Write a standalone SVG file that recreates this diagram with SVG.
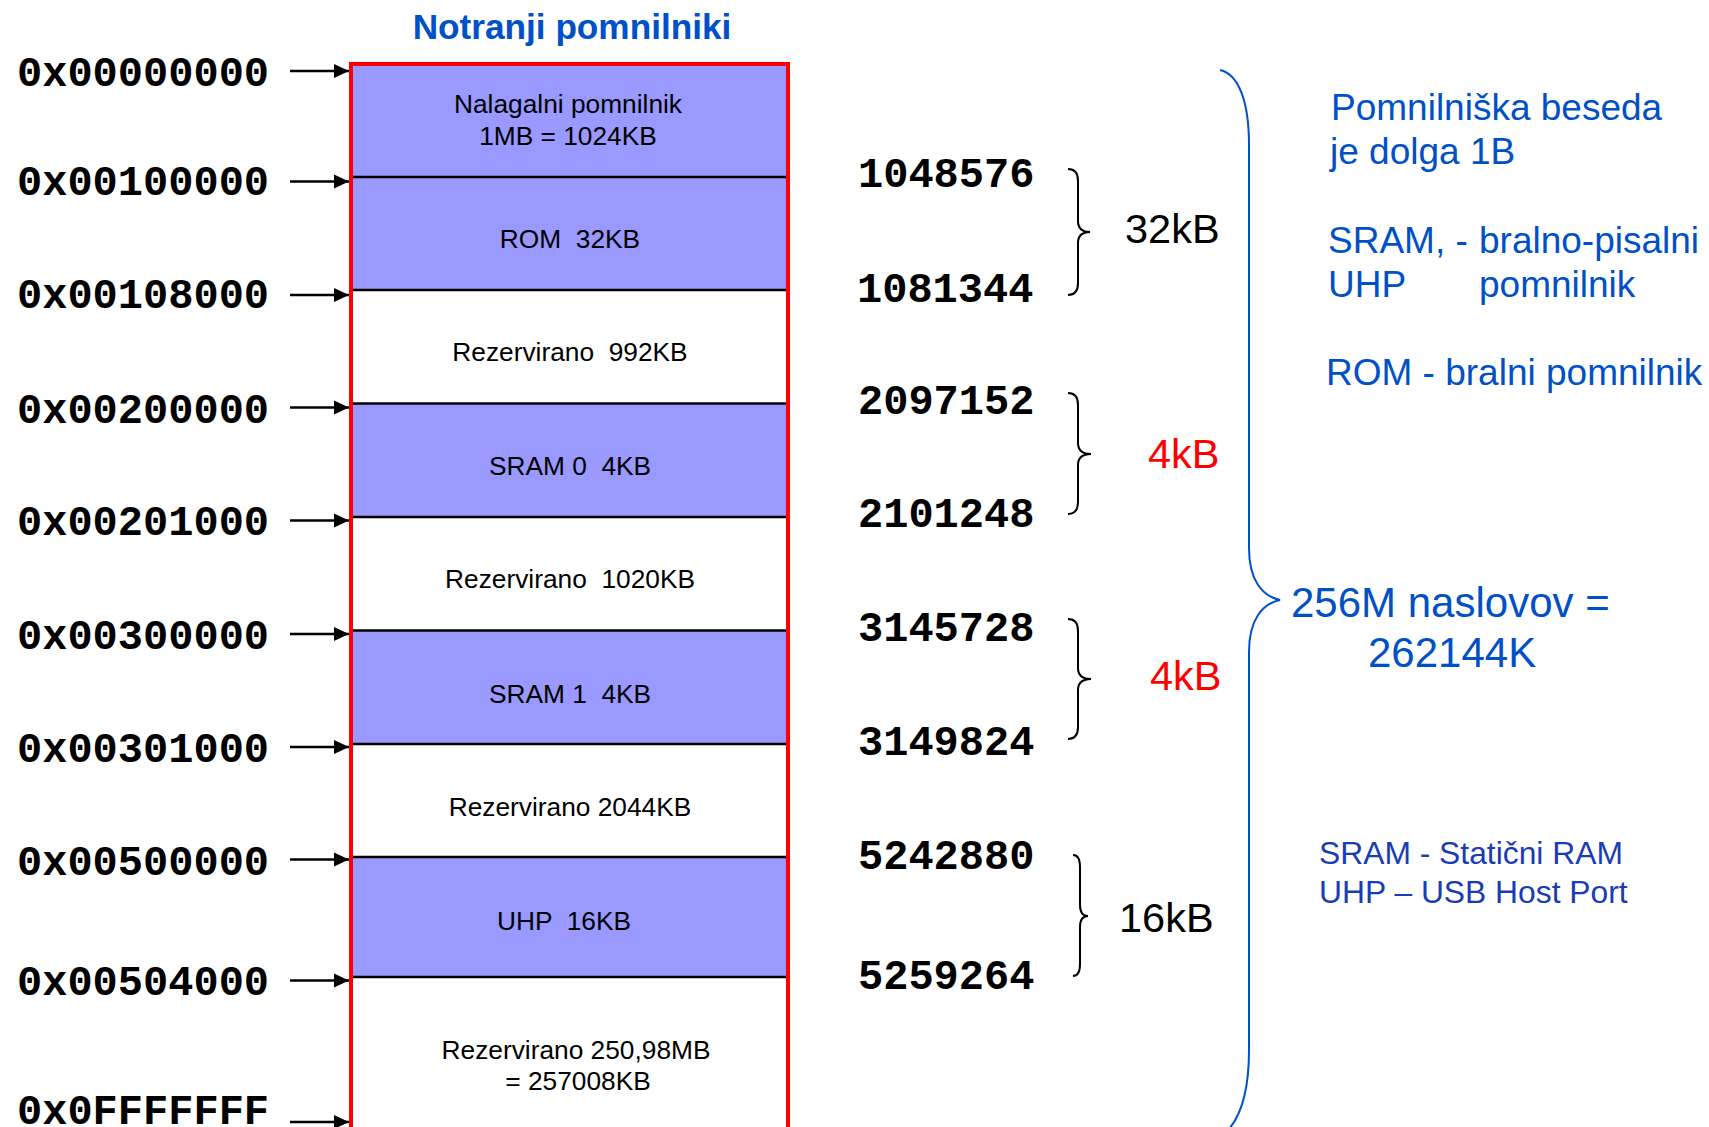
<svg xmlns="http://www.w3.org/2000/svg" width="1709" height="1127" viewBox="0 0 1709 1127">
<style>
.addr{font-family:"Liberation Mono","Courier New",monospace;font-weight:bold;font-size:42px;fill:#000}
.cell{font-family:"Liberation Sans",Arial,sans-serif;font-size:26.3px;fill:#000;text-anchor:middle}
.blue{font-family:"Liberation Sans",Arial,sans-serif;fill:#0050c8}
.navy{font-family:"Liberation Sans",Arial,sans-serif;fill:#1a3cb4;font-size:31.8px}
.size{font-family:"Liberation Sans",Arial,sans-serif;font-size:41.5px}
.div{stroke:#000;stroke-width:2.5}
.purple{fill:#9999ff}
.arrow{stroke:#000;stroke-width:2.7;fill:none;marker-end:url(#ah)}
.brace{fill:none;stroke:#000;stroke-width:2}
</style>
<defs>
<marker id="ah" markerUnits="userSpaceOnUse" markerWidth="16" markerHeight="15" refX="15" refY="7.5" orient="auto">
<path d="M0,0.5 L15,7.5 L0,14.5 z" fill="#000"/>
</marker>
</defs>
<rect width="1709" height="1127" fill="#fff"/>
<text class="blue" x="572" y="39" font-size="35.2" font-weight="bold" text-anchor="middle">Notranji pomnilniki</text>

<g id="memory-map">
<g id="cell-nalagalni"><rect class="purple" x="351" y="64" width="437" height="113"/><text class="cell" x="568" y="113">Nalagalni pomnilnik</text><text class="cell" x="568" y="145">1MB = 1024KB</text></g>
<g id="cell-rom"><rect class="purple" x="351" y="177" width="437" height="113"/><text class="cell" x="570" y="248" xml:space="preserve">ROM  32KB</text></g>
<g id="cell-rez1"><rect fill="#fff" x="351" y="290" width="437" height="113"/><text class="cell" x="570" y="361" xml:space="preserve">Rezervirano  992KB</text></g>
<g id="cell-sram0"><rect class="purple" x="351" y="403" width="437" height="114"/><text class="cell" x="570" y="475" xml:space="preserve">SRAM 0  4KB</text></g>
<g id="cell-rez2"><rect fill="#fff" x="351" y="517" width="437" height="113"/><text class="cell" x="570" y="588" xml:space="preserve">Rezervirano  1020KB</text></g>
<g id="cell-sram1"><rect class="purple" x="351" y="630" width="437" height="114"/><text class="cell" x="570" y="703" xml:space="preserve">SRAM 1  4KB</text></g>
<g id="cell-rez3"><rect fill="#fff" x="351" y="744" width="437" height="113"/><text class="cell" x="570" y="816">Rezervirano 2044KB</text></g>
<g id="cell-uhp"><rect class="purple" x="351" y="857" width="437" height="120"/><text class="cell" x="564" y="930" xml:space="preserve">UHP  16KB</text></g>
<g id="cell-rez4"><rect fill="#fff" x="351" y="977" width="437" height="160"/><text class="cell" x="576" y="1059">Rezervirano 250,98MB</text><text class="cell" x="578" y="1090">= 257008KB</text></g>
<line class="div" x1="351" y1="177" x2="788" y2="177"/>
<line class="div" x1="351" y1="290" x2="788" y2="290"/>
<line class="div" x1="351" y1="403.5" x2="788" y2="403.5"/>
<line class="div" x1="351" y1="517" x2="788" y2="517"/>
<line class="div" x1="351" y1="630.5" x2="788" y2="630.5"/>
<line class="div" x1="351" y1="744" x2="788" y2="744"/>
<line class="div" x1="351" y1="857" x2="788" y2="857"/>
<line class="div" x1="351" y1="977" x2="788" y2="977"/>
<rect x="351" y="64" width="437" height="1080" fill="none" stroke="#ff0000" stroke-width="4"/>
</g>

<g id="addresses">
<text class="addr" x="17" y="86">0x00000000</text>
<text class="addr" x="17" y="195">0x00100000</text>
<text class="addr" x="17" y="308">0x00108000</text>
<text class="addr" x="17" y="423">0x00200000</text>
<text class="addr" x="17" y="535">0x00201000</text>
<text class="addr" x="17" y="649">0x00300000</text>
<text class="addr" x="17" y="762">0x00301000</text>
<text class="addr" x="17" y="875">0x00500000</text>
<text class="addr" x="17" y="995">0x00504000</text>
<text class="addr" x="17" y="1124">0x0FFFFFFF</text>
</g>

<g id="connectors">
<line class="arrow" x1="290" y1="71" x2="349" y2="71"/>
<line class="arrow" x1="290" y1="181.5" x2="349" y2="181.5"/>
<line class="arrow" x1="290" y1="295" x2="349" y2="295"/>
<line class="arrow" x1="290" y1="407.5" x2="349" y2="407.5"/>
<line class="arrow" x1="290" y1="520.5" x2="349" y2="520.5"/>
<line class="arrow" x1="290" y1="634" x2="349" y2="634"/>
<line class="arrow" x1="290" y1="747" x2="349" y2="747"/>
<line class="arrow" x1="290" y1="859.5" x2="349" y2="859.5"/>
<line class="arrow" x1="290" y1="980.5" x2="349" y2="980.5"/>
<line class="arrow" x1="290" y1="1122" x2="349" y2="1122"/>
</g>

<g id="decimal">
<text class="addr" x="858" y="187">1048576</text>
<text class="addr" x="857" y="302">1081344</text>
<text class="addr" x="858" y="414">2097152</text>
<text class="addr" x="858" y="527">2101248</text>
<text class="addr" x="858" y="641">3145728</text>
<text class="addr" x="858" y="755">3149824</text>
<text class="addr" x="858" y="869">5242880</text>
<text class="addr" x="858" y="989">5259264</text>
</g>

<g id="braces">
<path class="brace" d="M1068,169 Q1078,169 1078,181 L1078,221 Q1078,232 1090,232 Q1078,232 1078,243 L1078,283 Q1078,295 1068,295"/>
<path class="brace" d="M1068,393 Q1078,393 1078,405 L1078,443 Q1078,454 1091,454 Q1078,454 1078,465 L1078,502 Q1078,514 1068,514"/>
<path class="brace" d="M1068,619 Q1078,619 1078,631 L1078,668 Q1078,679 1091,679 Q1078,679 1078,690 L1078,727 Q1078,739 1068,739"/>
<path class="brace" d="M1073,855 Q1080,855 1080,867 L1080,905 Q1080,916 1088,916 Q1080,916 1080,927 L1080,964 Q1080,976 1073,976"/>
<text class="size" x="1125" y="243" fill="#000">32kB</text>
<text class="size" x="1148" y="468" fill="#ff0000">4kB</text>
<text class="size" x="1150" y="690" fill="#ff0000">4kB</text>
<text class="size" x="1119" y="932" fill="#000">16kB</text>
<path d="M1220,70 C1238,74 1249,100 1249,145 L1249,548 C1249,580 1262,596 1280,600 C1262,604 1249,620 1249,652 L1249,1050 C1249,1095 1240,1120 1224,1134" fill="none" stroke="#0050c8" stroke-width="2"/>
</g>

<g id="notes">
<text class="blue" font-size="37" x="1331" y="120">Pomnilniška beseda</text>
<text class="blue" font-size="37" x="1330" y="164">je dolga 1B</text>
<text class="blue" font-size="37" x="1328" y="253">SRAM, -</text>
<text class="blue" font-size="37" x="1479" y="253">bralno-pisalni</text>
<text class="blue" font-size="37" x="1328" y="297">UHP</text>
<text class="blue" font-size="37" x="1479" y="297">pomnilnik</text>
<text class="blue" font-size="37" x="1326" y="385">ROM - bralni pomnilnik</text>
<text class="blue" font-size="42" x="1291" y="617">256M naslovov =</text>
<text class="blue" font-size="42" x="1368" y="667">262144K</text>
<text class="navy" x="1319" y="864">SRAM - Statični RAM</text>
<text class="navy" x="1319" y="903">UHP – USB Host Port</text>
</g>
</svg>
